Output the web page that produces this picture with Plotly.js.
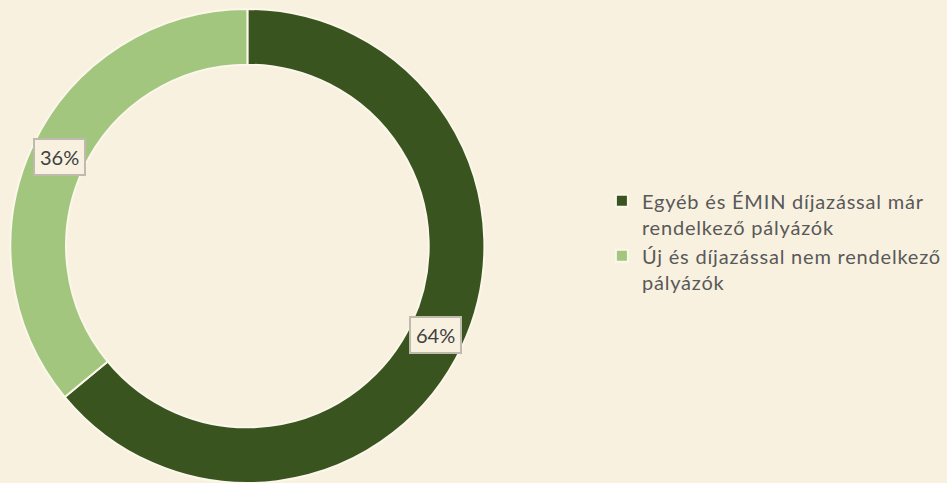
<!DOCTYPE html>
<html><head><meta charset="utf-8">
<script src="https://cdn.plot.ly/plotly-3.0.1.min.js"></script>
<style>
html,body{margin:0;padding:0;background:#F8F1E0;}
.legendtext{letter-spacing:0.8px;}
</style>
</head><body>
<div id="chart" style="width:947px;height:483px;"></div>
<script>
const categories = ["Egyéb és ÉMIN díjazással már<br>rendelkező pályázók", "Új és díjazással nem rendelkező<br>pályázók"];
const values = [64, 36];
const colors = ["#3A5420", "#A3C67E"];

const W = 947, H = 483;
const mT = 9, mB = 0;
const domX = [0, 499 / W];
const hole = 0.765;

// geometry derived from layout to place label boxes at slice centres
const plotH = H - mT - mB;
const R = plotH / 2;
const cx = (domX[0] + domX[1]) / 2 * W;
const cy = mT + R;
const total = values.reduce((a, b) => a + b, 0);
const annotations = [];
let cum = 0;
values.forEach(v => {
  const mid = (cum + v / 2) / total * 2 * Math.PI;
  cum += v;
  const rr = R * (1 + hole) / 2;
  const px = cx + rr * Math.sin(mid);
  const py = cy - rr * Math.cos(mid);
  annotations.push({
    xref: 'paper', yref: 'paper',
    x: px / W, y: 1 - (py - mT) / plotH,
    text: Math.round(v / total * 100) + '%',
    showarrow: false,
    font: {family: 'Lato, Carlito, sans-serif', size: 20, color: '#404040'},
    bgcolor: '#F8F1E0', bordercolor: '#BFBAAD', borderwidth: 2, borderpad: 5,
    xanchor: 'center', yanchor: 'middle'
  });
});

const data = [{
  type: 'pie',
  labels: categories,
  values: values,
  hole: hole,
  sort: false,
  direction: 'clockwise',
  rotation: 0,
  textinfo: 'none',
  marker: {colors: colors, line: {color: '#FBF7EA', width: 2}},
  domain: {x: domX, y: [0, 1]},
  hoverinfo: 'label+percent'
}];

const layout = {
  width: W, height: H,
  margin: {l: 0, r: 0, t: mT, b: mB},
  paper_bgcolor: '#F8F1E0',
  plot_bgcolor: '#F8F1E0',
  showlegend: true,
  annotations: annotations,
  legend: {
    x: 0.641, y: 0.51, xanchor: 'left', yanchor: 'middle',
    font: {family: 'Lato, Carlito, sans-serif', size: 20, color: '#595959'},
    bgcolor: 'rgba(0,0,0,0)',
    valign: 'top',
    itemwidth: 30,
    itemclick: false
  }
};

Plotly.newPlot('chart', data, layout, {displayModeBar: false, staticPlot: true});
</script>
</body></html>
